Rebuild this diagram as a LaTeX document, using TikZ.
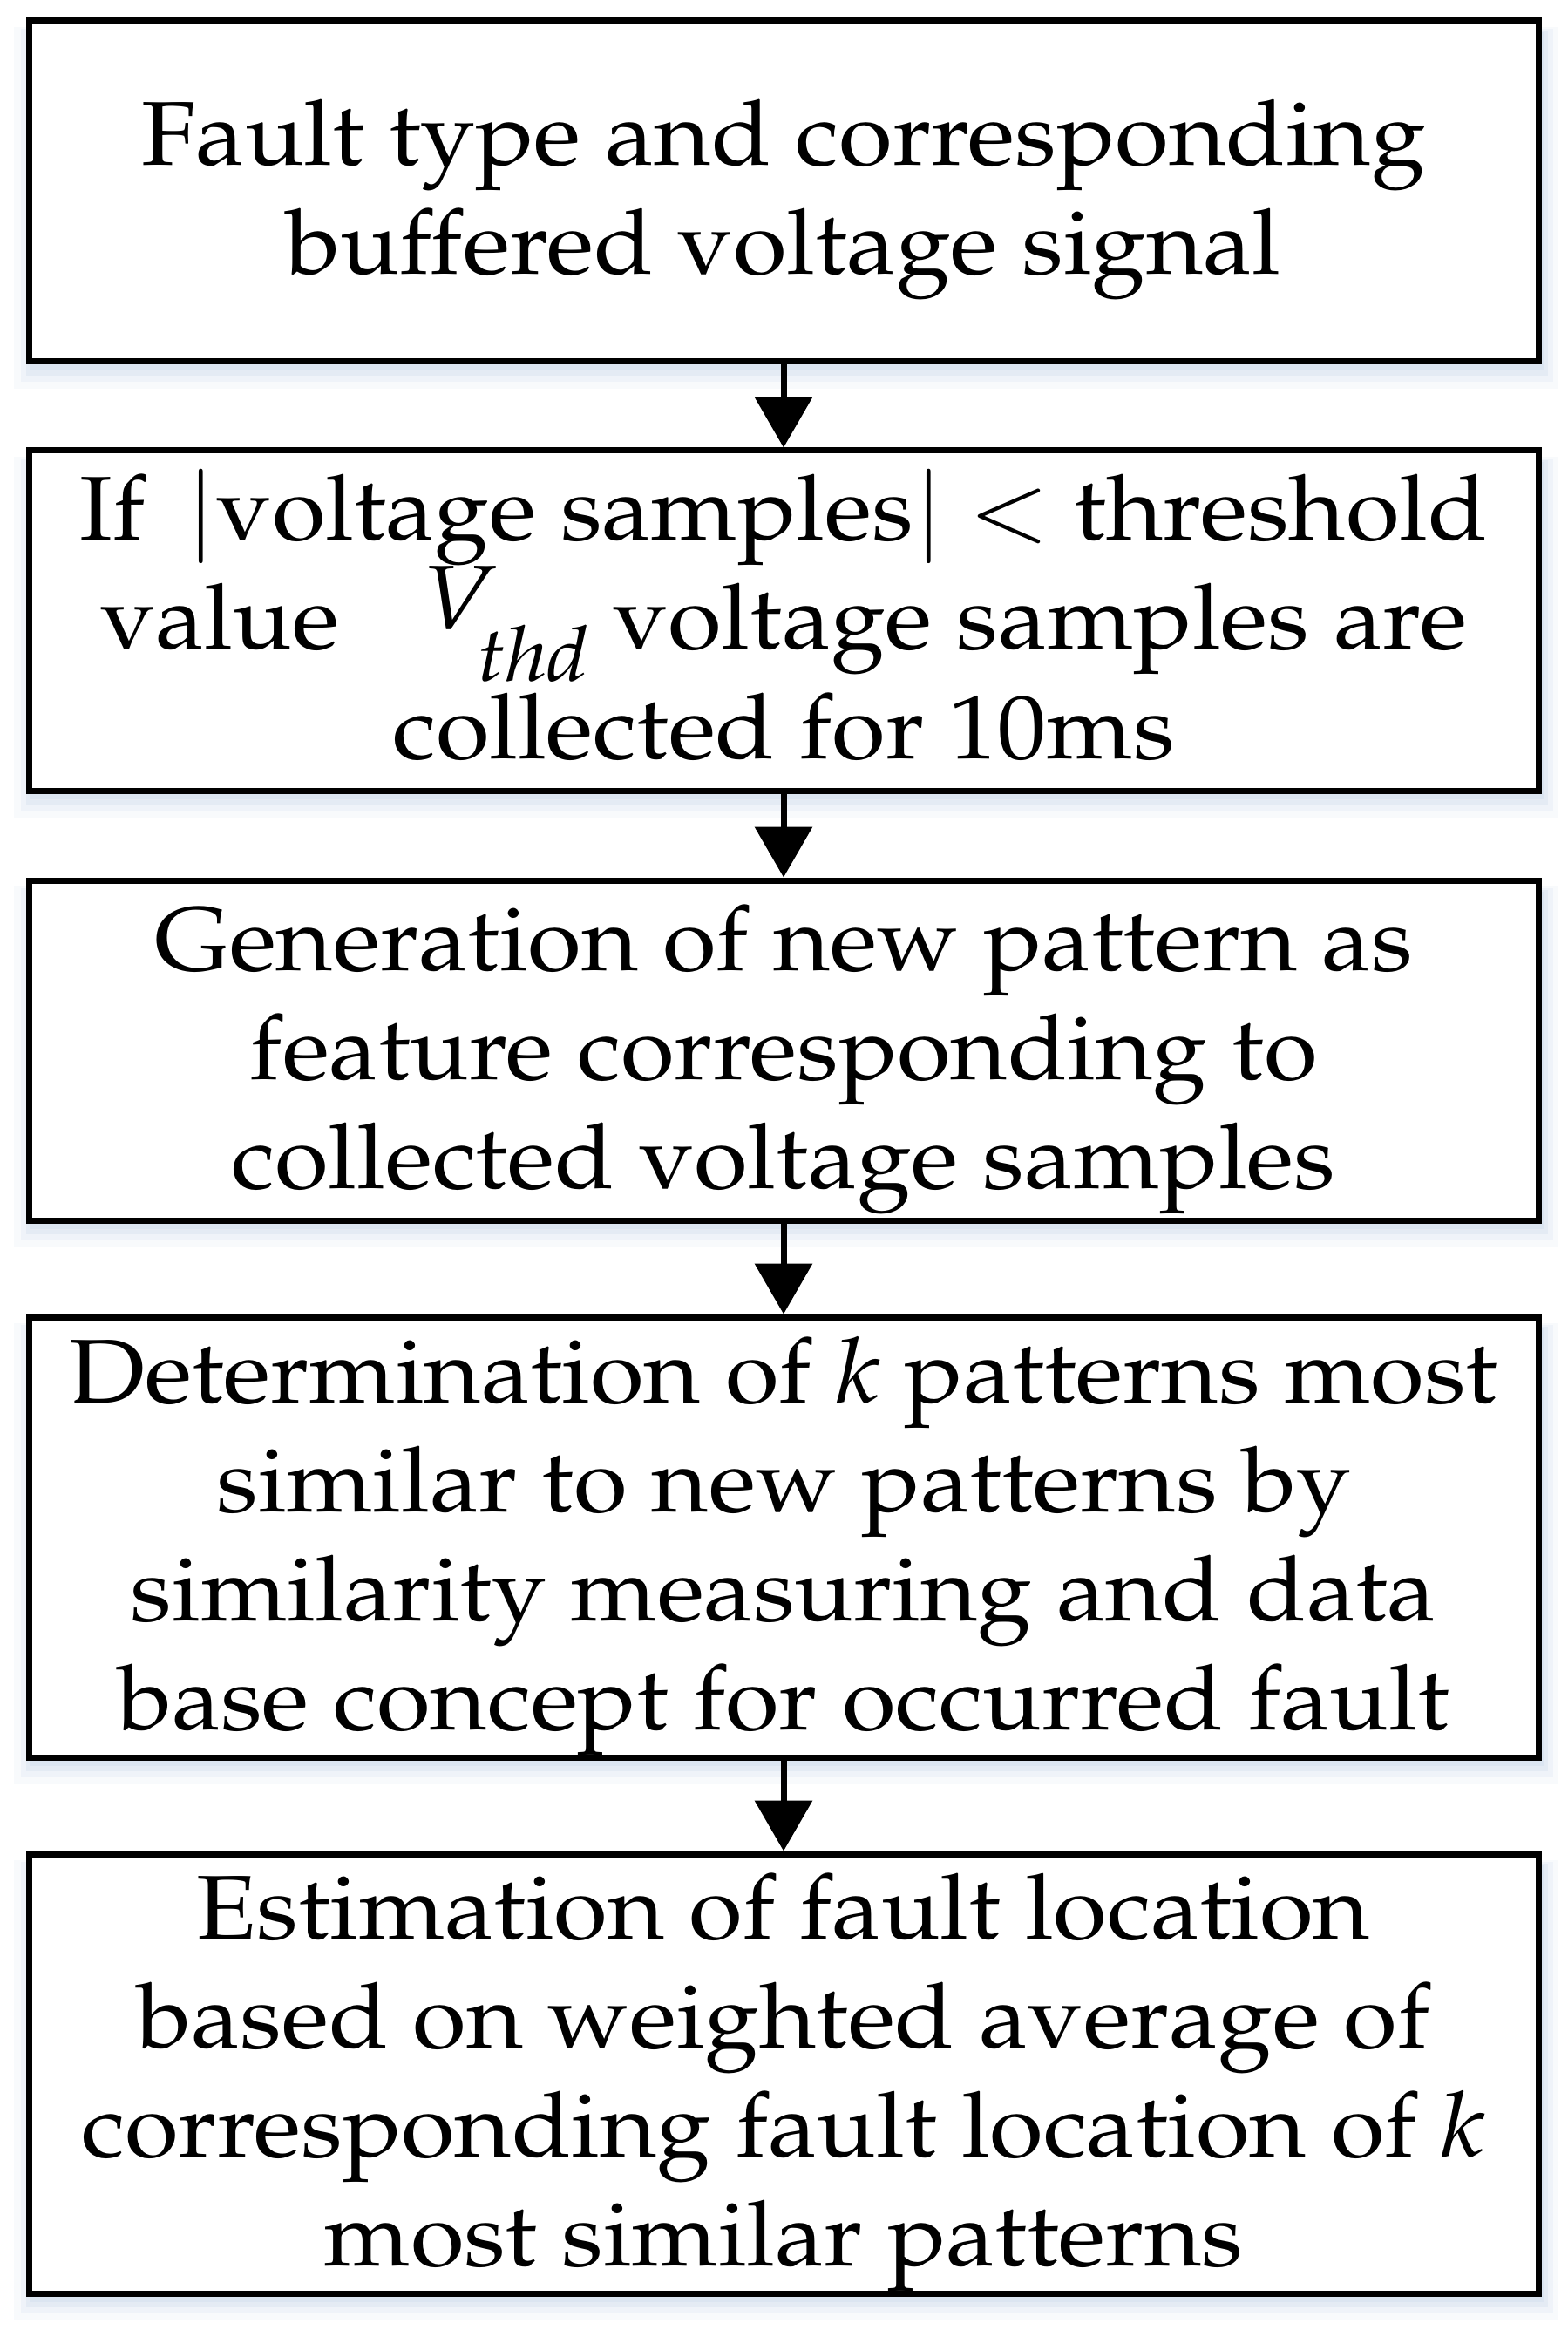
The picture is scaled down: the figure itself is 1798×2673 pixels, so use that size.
\documentclass[tikz,border=0pt]{standalone}
\usepackage[T1]{fontenc}
\usepackage{mathpazo}
\usepackage{graphicx}
\usetikzlibrary{arrows.meta}
\definecolor{shc}{RGB}{219,229,241}
\newcommand\bt[1]{\raisebox{-2pt}[\height][\depth]{\scalebox{1.08}[1]{\begin{tabular}{@{}c@{}}#1\end{tabular}}}}
\tikzset{
  box/.style={draw=black, line width=1.75pt, fill=white, minimum width=433pt, inner sep=0pt, align=center,
    font=\fontsize{26pt}{31.25pt}\selectfont},
  ghost/.style={minimum width=433pt, inner sep=0pt},
  flow/.style={line width=1.75pt, -{Triangle[length=14.5pt,width=16.25pt]}},
  shA/.style={fill=shc!20},
  shB/.style={fill=shc!45},
  shC/.style={fill=shc!75},
  shD/.style={fill=shc},
}
\newcommand\myshadow[1]{%
  \fill[shA] ([shift={(-16,8)}]#1.north west) rectangle ([shift={(22,30)}]#1.south east);
  \fill[shB] ([shift={(-8,10)}]#1.north west) rectangle ([shift={(16,22)}]#1.south east);
  \fill[shC] ([shift={(-2,12)}]#1.north west) rectangle ([shift={(10,15)}]#1.south east);
  \fill[shD] ([shift={(2,14)}]#1.north west) rectangle ([shift={(5,9)}]#1.south east);
}
\begin{document}
\begin{tikzpicture}[x=0.25pt,y=-0.25pt]
\useasboundingbox (0,0) rectangle (1798,2673);
\fill[white] (0,0) rectangle (1798,2673);
\path (899,219.5) node[ghost, minimum height=97.75pt] (g1) {};
\myshadow{g1}
\node[box, minimum height=97.75pt] (b1) at (899,219.5)
  {\bt{Fault type and corresponding\\ buffered voltage signal}};
\path (899,712) node[ghost, minimum height=97.5pt] (g2) {};
\myshadow{g2}
\node[box, minimum height=97.5pt] (b2) at (899,712)
  {\bt{If\, $|$voltage samples$|$ $<$ threshold\\
   value\hspace{0.85em}\smash{\raisebox{6pt}{\itshape V}}\hspace{-4pt}\smash{\raisebox{-9pt}{\fontsize{22pt}{22pt}\selectfont\itshape thd}} voltage samples are\\
   collected for 10ms}};
\path (899,1205) node[ghost, minimum height=97.5pt] (g3) {};
\myshadow{g3}
\node[box, minimum height=97.5pt] (b3) at (899,1205)
  {\bt{Generation of new pattern as\\ feature corresponding to\\ collected voltage samples}};
\path (899,1763.5) node[ghost, minimum height=126.25pt] (g4) {};
\myshadow{g4}
\node[box, minimum height=126.25pt] (b4) at (899,1763.5)
  {\bt{Determination of \textit{k} patterns most\\ similar to new patterns by\\ similarity measuring and data\\ base concept for occurred fault}};
\path (899,2379) node[ghost, minimum height=126pt] (g5) {};
\myshadow{g5}
\node[box, minimum height=126pt] (b5) at (899,2379)
  {\bt{Estimation of fault location\\ based on weighted average of\\ corresponding fault location of \textit{k}\\ most similar patterns}};
\draw[flow] (b1.south) -- (b2.north);
\draw[flow] (b2.south) -- (b3.north);
\draw[flow] (b3.south) -- (b4.north);
\draw[flow] (b4.south) -- (b5.north);
\end{tikzpicture}
\end{document}
